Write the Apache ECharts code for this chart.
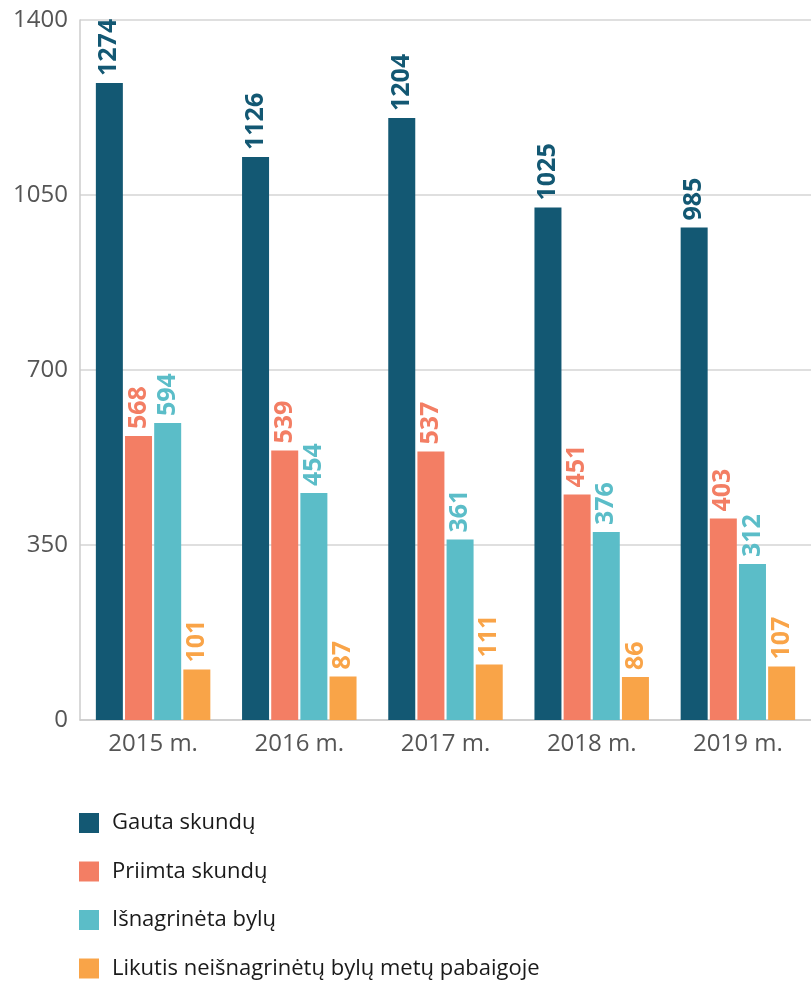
<!DOCTYPE html>
<html>
	<head>
		<meta charset="utf-8">
		<title>Skundai</title>
		<script type="text/javascript" src="https://cdn.jsdelivr.net/npm/echarts@6/dist/echarts.min.js"></script>
	</head>
	<body style="margin: 0; background-color: #FFFFFF;">
		<div id="chart" style="width: 811px;height:984px;"></div>
		<script type="text/javascript">
			// duomenys
			var years = ['2015 m.', '2016 m.', '2017 m.', '2018 m.', '2019 m.'];
			var gauta = [1274, 1126, 1204, 1025, 985];
			var priimta = [568, 539, 537, 451, 403];
			var isnagrineta = [594, 454, 361, 376, 312];
			var likutis = [101, 87, 111, 86, 107];
			var names = ['Gauta skundų', 'Priimta skundų', 'Išnagrinėta bylų', 'Likutis neišnagrinėtų bylų metų pabaigoje'];
			var colors = ['#135873', '#F37E64', '#5BBDC8', '#F9A448'];

			var font = '"Open Sans", "Noto Sans", sans-serif';

			function makeSeries(i, data) {
				return {
					name: names[i],
					type: 'bar',
					data: data,
					barWidth: 27,
					barGap: '8%',
					itemStyle: { color: colors[i] },
					label: {
						show: true,
						position: 'top',
						rotate: 90,
						align: 'left',
						verticalAlign: 'middle',
						distance: 7,
						color: colors[i],
						fontFamily: font,
						fontWeight: 'bold',
						fontSize: 25
					}
				};
			}

			var option = {
				animation: false,
				color: colors,
				grid: {
					left: 80,
					right: -9,
					top: 20,
					bottom: 264
				},
				legend: {
					orient: 'vertical',
					left: 79,
					top: 812,
					height: 300,
					padding: 0,
					itemWidth: 20,
					itemHeight: 20,
					itemGap: 26.5,
					icon: 'rect',
					textStyle: {
						fontFamily: font,
						fontSize: 22,
						lineHeight: 20,
						color: '#1a1a1a',
						padding: [0, 0, 0, 8]
					},
					data: names
				},
				xAxis: {
					type: 'category',
					data: years,
					axisLine: { lineStyle: { color: '#cccccc', width: 1.5 } },
					axisTick: { inside: true, length: 17, lineStyle: { color: '#cccccc' } },
					axisLabel: {
						fontFamily: font,
						fontSize: 24,
						color: '#555555',
						margin: 12
					}
				},
				yAxis: {
					type: 'value',
					min: 0,
					max: 1400,
					interval: 350,
					axisLine: { show: true, lineStyle: { color: '#cccccc', width: 1.5 } },
					axisTick: { show: false },
					splitLine: { lineStyle: { color: '#d4d4d4', width: 1.5 } },
					axisLabel: {
						fontFamily: font,
						fontSize: 24,
						color: '#555555',
						margin: 12,
						formatter: function(v) { return String(v); }
					}
				},
				series: [
					makeSeries(0, gauta),
					makeSeries(1, priimta),
					makeSeries(2, isnagrineta),
					makeSeries(3, likutis)
				]
			};

			var myChart = echarts.init(document.getElementById('chart'));
			myChart.setOption(option);
		</script>
	</body>
</html>
